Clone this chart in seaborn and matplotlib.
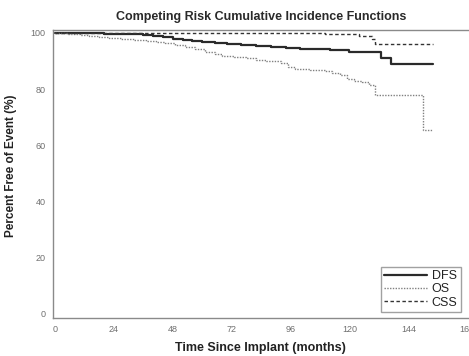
import matplotlib
matplotlib.use("Agg")
import matplotlib.pyplot as plt
import pandas as pd
import seaborn as sns

# step curves (months, percent free of event)
dfs_time = [0, 10, 20, 30, 36, 40, 44, 48, 52, 56, 60, 65, 70, 76, 82, 88, 94, 100, 105, 112,
            120, 133, 137, 154]
dfs_value = [100, 99.9, 99.7, 99.5, 99.2, 98.9, 98.4, 97.9, 97.4, 97.0, 96.7, 96.3, 96.0, 95.6,
             95.3, 95.0, 94.7, 94.4, 94.2, 94.1, 93.1, 91.2, 89.1, 89.1]

os_time = [0, 5, 10, 14, 18, 22, 27, 32, 37, 41, 45, 49, 53, 57, 61, 65, 68, 73, 78, 82, 86, 89,
           92, 95, 98, 104, 110, 113, 116, 119, 122, 125, 128, 130.5, 150, 154]
os_value = [100, 99.8, 99.4, 99.0, 98.6, 98.2, 97.8, 97.4, 97.1, 96.8, 96.3, 95.6, 95.0, 94.3,
            93.4, 92.4, 91.8, 91.5, 91.0, 90.4, 90.1, 89.9, 89.2, 88.0, 87.1, 86.9, 86.6, 85.9,
            84.9, 83.8, 83.0, 82.4, 81.6, 77.9, 65.5, 65.5]

css_time = [0, 110, 124, 129, 130.5, 154]
css_value = [100, 99.6, 98.8, 98.0, 96.2, 96.2]

x_ticks = [0, 24, 48, 72, 96, 120, 144, 168]
y_ticks = [0, 20, 40, 60, 80, 100]

sns.set_style("white")
plt.rcParams['font.family'] = ['Liberation Sans', 'DejaVu Sans']

fig = plt.figure(figsize=(4.69, 3.56), dpi=100)
ax = fig.add_axes([0.112, 0.107, 0.888, 0.809])

#one call per curve so each gets its own line style
sns.lineplot(x=dfs_time, y=dfs_value, ax=ax, color="#2a2a2a", linewidth=1.6,
             drawstyle="steps-post", label="DFS")
sns.lineplot(x=os_time, y=os_value, ax=ax, color="#808080", linewidth=1.0,
             linestyle=(0, (1, 1)), drawstyle="steps-post", label="OS")
sns.lineplot(x=css_time, y=css_value, ax=ax, color="#333333", linewidth=1.0,
             linestyle=(0, (2.5, 1.8)), drawstyle="steps-post", label="CSS")

ax.set_xlim(-1, 168.7)
ax.set_ylim(-1.4, 101.1)
ax.set_xticks(x_ticks)
ax.set_yticks(y_ticks)

for side in ["left", "bottom", "top"]:
    ax.spines[side].set_color("#8a8a8a")
    ax.spines[side].set_linewidth(1.0)
ax.spines["right"].set_visible(False)

ax.tick_params(axis="both", direction="out", length=3, width=0.8, color="#8a8a8a",
               labelsize=6.5, labelcolor="#707070", pad=2)

ax.set_title("Competing Risk Cumulative Incidence Functions", fontsize=9, fontweight="bold",
             color="#2a2a2a", pad=7)
ax.set_xlabel("Time Since Implant (months)", fontsize=9, fontweight="bold", color="#222222")
ax.set_ylabel("Percent Free of Event (%)", fontsize=8.5, fontweight="bold", color="#222222")
ax.xaxis.set_label_coords(0.5, -0.085)
ax.yaxis.set_label_coords(-0.085, 0.53)

leg = ax.legend(loc="lower right", fontsize=9, frameon=True, fancybox=False,
                handlelength=3.4, handletextpad=0.4, borderpad=0.25, labelspacing=0.1,
                bbox_to_anchor=(0.995, 0.0))
leg.get_frame().set_edgecolor("#8a8a8a")
leg.get_frame().set_linewidth(1.0)
for txt in leg.get_texts():
    txt.set_color("#222222")

plt.savefig("out.png", dpi=100)
